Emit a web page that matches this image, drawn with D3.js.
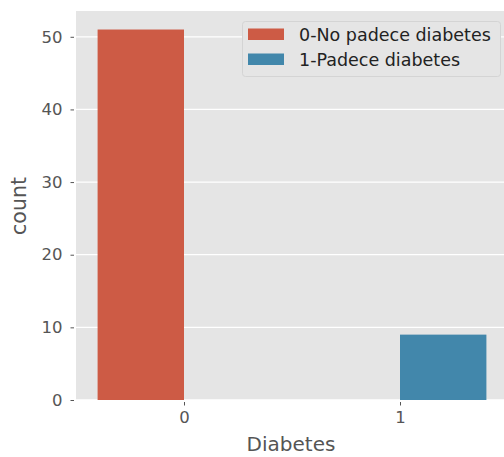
<!DOCTYPE html>
<html><head><meta charset="utf-8">
<script src="https://cdn.jsdelivr.net/npm/d3@7"></script>
<style>body{margin:0;background:#fff}svg{display:block}text{font-family:"DejaVu Sans",sans-serif}</style>
</head><body>
<svg id="c" width="504" height="457"></svg>
<script>
const categories = ["0", "1"];
const seriesNames = ["0-No padece diabetes", "1-Padece diabetes"];
const counts = [51, 9];
const yTicks = [0, 10, 20, 30, 40, 50];
const colors = ["#CD5B45", "#4287AB"];

const svg = d3.select("#c");
const L = 76, R = 508, T = 11, B = 400;
const x = d3.scaleLinear().domain([-0.5, 1.5]).range([L, R]);
const y = d3.scaleLinear().domain([0, 53.55]).range([B, T]);

svg.append("rect").attr("x", L).attr("y", T).attr("width", R - L).attr("height", B - T).attr("fill", "#E5E5E5");

// horizontal grid only
svg.append("g").selectAll("line").data(yTicks).join("line")
  .attr("x1", L).attr("x2", R).attr("y1", d => y(d)).attr("y2", d => y(d))
  .attr("stroke", "#fff").attr("stroke-width", 1.3);

// bars: hue i placed at category i, offset
const bw = 0.4;
svg.append("g").selectAll("rect").data(counts).join("rect")
  .attr("x", (d, i) => x(i + (i === 0 ? -bw : 0)))
  .attr("width", x(bw) - x(0))
  .attr("y", d => y(d)).attr("height", d => B - y(d))
  .attr("fill", (d, i) => colors[i]);

// axes
const yAxis = d3.axisLeft(y).tickValues(yTicks).tickSize(3.5).tickPadding(8);
const gy = svg.append("g").attr("transform", `translate(${L - 2},0)`).call(yAxis);
const xAxis = d3.axisBottom(x).tickValues([0, 1]).tickFormat((d, i) => categories[i]).tickSize(3.5).tickPadding(6);
const gx = svg.append("g").attr("transform", `translate(0,${B + 2})`).call(xAxis);
[gy, gx].forEach(g => {
  g.select(".domain").remove();
  g.selectAll("line").attr("stroke", "#555").attr("stroke-width", 1);
  g.selectAll("text").attr("fill", "#555").attr("font-size", 16.5).attr("font-family", "DejaVu Sans");
});

svg.append("text").attr("x", 291).attr("y", 451).attr("text-anchor", "middle")
  .attr("fill", "#555").attr("font-size", 20).text("Diabetes");
svg.append("text").attr("transform", `translate(26,${206}) rotate(-90)`).attr("text-anchor", "middle")
  .attr("fill", "#555").attr("font-size", 20.5).text("count");

// legend
const lg = svg.append("g");
lg.append("rect").attr("x", 242.5).attr("y", 21.5).attr("width", 258).attr("height", 55).attr("rx", 3)
  .attr("fill", "#E5E5E5").attr("stroke", "#d4d4d4").attr("stroke-width", 1);
seriesNames.forEach((s, i) => {
  lg.append("rect").attr("x", 248).attr("y", 28.5 + i * 25).attr("width", 36).attr("height", 11.5).attr("fill", colors[i]);
  lg.append("text").attr("x", 299).attr("y", 41 + i * 25).attr("font-size", 17.5).attr("fill", "#222").text(s);
});
</script>
</body></html>
